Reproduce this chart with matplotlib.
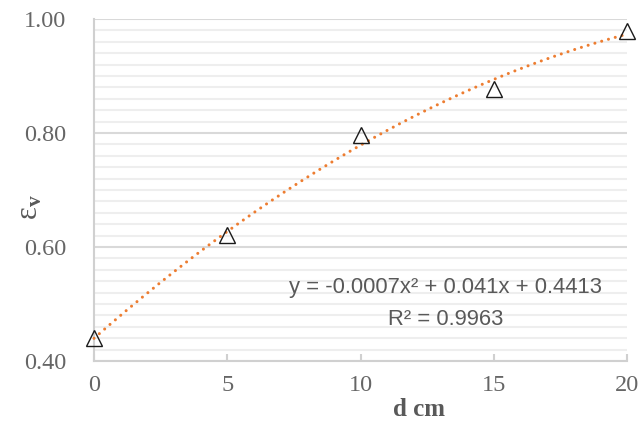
import numpy as np
import matplotlib
matplotlib.use("Agg")
import matplotlib.pyplot as plt
from matplotlib.ticker import MultipleLocator, FormatStrFormatter

# data
d_cm = [0, 5, 10, 15, 20]
eps_v = [0.44, 0.621, 0.796, 0.877, 0.979]
x_ticks = [0, 5, 10, 15, 20]
y_ticks = [0.40, 0.60, 0.80, 1.00]
eq_text = "y = -0.0007x\u00b2 + 0.041x + 0.4413"
r2_text = "R\u00b2 = 0.9963"

plt.rcParams['mathtext.fontset'] = 'custom'
plt.rcParams['mathtext.rm'] = 'Liberation Serif'
plt.rcParams['mathtext.it'] = 'Liberation Serif:italic'
plt.rcParams['mathtext.bf'] = 'Liberation Serif:bold'

fig = plt.figure(figsize=(6.44, 4.21), dpi=100)
ax = fig.add_axes([94/644, 1-361/421, (627-94)/644, (361-19)/421])

grey = '#595959'
ax.set_xlim(0, 20)
ax.set_ylim(0.40, 1.00)
ax.set_xticks(x_ticks)
ax.set_yticks(y_ticks)
ax.yaxis.set_minor_locator(MultipleLocator(0.02))
ax.yaxis.set_major_formatter(FormatStrFormatter('%.2f'))

ax.grid(which='major', axis='y', color='#d9d9d9', lw=1.5, zorder=0)
ax.grid(which='minor', axis='y', color='#eeeeee', lw=1.5, zorder=0)
ax.set_axisbelow(True)

for s in ['top', 'right']:
    ax.spines[s].set_visible(False)
for s in ['left', 'bottom']:
    ax.spines[s].set_color('#d0d0d0')
    ax.spines[s].set_linewidth(1.5)

ax.tick_params(axis='x', which='major', direction='in', length=5, width=1.5,
               color='#d0d0d0', pad=10, labelsize=17.5, labelcolor='#666666')
ax.tick_params(axis='y', which='both', length=0, pad=20, labelsize=17.5, labelcolor='#666666')
for lab in ax.get_xticklabels() + ax.get_yticklabels():
    lab.set_fontfamily('Liberation Serif')

# trendline (quadratic fit of the data)
coef = np.polyfit(d_cm, eps_v, 2)
xs = np.linspace(0, 20, 200)
ax.plot(xs, np.polyval(coef, xs), color='#ED7D31', lw=2.2,
        linestyle=(0, (0.01, 2.3)), dash_capstyle='round', zorder=3, clip_on=False)

ax.plot(d_cm, eps_v, linestyle='none', marker='^', ms=12, mfc='none',
        mec='#1a1a1a', mew=1.0, zorder=4, clip_on=False)

ax.text(0.659, 0.216, eq_text, transform=ax.transAxes, ha='center', va='center',
        fontsize=15.8, color=grey, family='Liberation Sans')
ax.text(0.659, 0.12, r2_text, transform=ax.transAxes, ha='center', va='center',
        fontsize=15.8, color=grey, family='Liberation Sans')

fig.text(419/644, 1-409/421, 'd cm', ha='center', va='center', fontsize=18,
         fontweight='bold', color=grey, family='Liberation Serif')
fig.text(30/644, 1-207/421, '$\\mathrm{\u03b5}_{\\mathbf{v}}$', ha='center', va='center',
         fontsize=22, color=grey, rotation=90)

fig.savefig('out.png', dpi=100)
